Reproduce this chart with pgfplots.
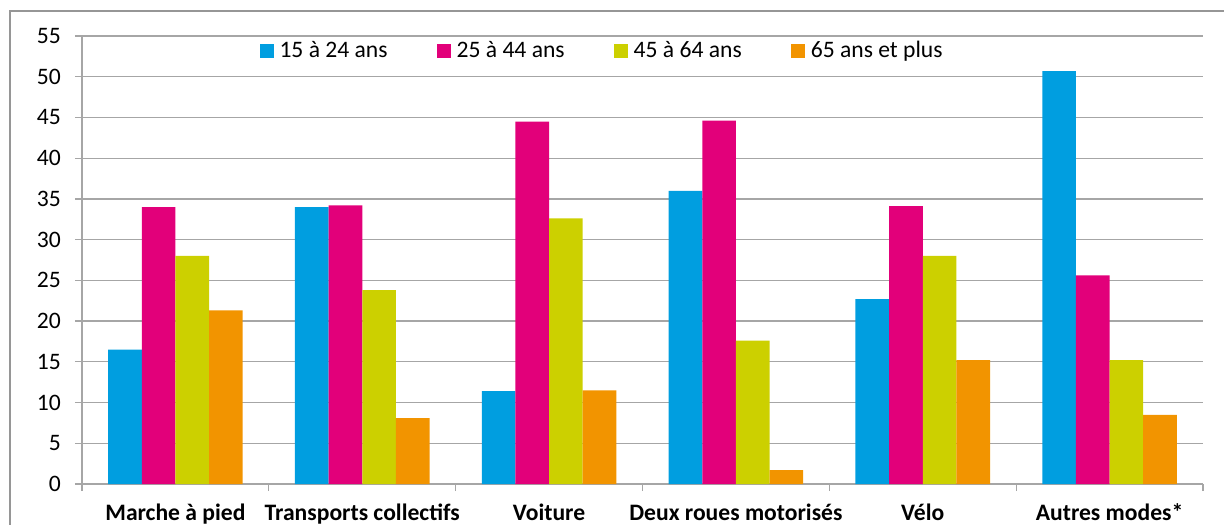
\documentclass[border=0pt]{standalone}
\usepackage{pgfplots}
\pgfplotsset{compat=1.18}
\usepackage{fontspec}
\setmainfont{Carlito}

\definecolor{c1524}{RGB}{0,158,224}
\definecolor{c2544}{RGB}{226,0,122}
\definecolor{c4564}{RGB}{204,208,0}
\definecolor{c65}{RGB}{242,148,0}
\definecolor{gridgray}{RGB}{166,166,166}
\definecolor{framegray}{RGB}{150,150,150}

\begin{document}
\begin{tikzpicture}[font=\fontsize{11.8}{14}\selectfont]
\useasboundingbox (0,0) rectangle (612pt,262pt);
% cadre exterieur
\draw[framegray, line width=0.6pt] (5pt,-2pt) -- (5pt,256.5pt) -- (615pt,256.5pt);
\begin{axis}[
    at={(41pt,20pt)}, anchor=south west,
    scale only axis,
    width=560.5pt, height=224pt,
    xmin=-0.5, xmax=5.5,
    ymin=0, ymax=55,
    ybar=0pt,
    bar width=0.18,
    axis x line*=bottom,
    axis y line*=left,
    axis line style={gridgray, line width=0.6pt},
    ymajorgrids,
    grid style={gridgray, line width=0.6pt},
    tick align=outside,
    major tick length=3.6pt,
    tick style={gridgray, line width=0.6pt},
    ytick={0,5,...,55},
    yticklabel style={xshift=-3.5pt},
    xtick={-0.5,0.5,...,5.5},
    x tick label as interval,
    xticklabels={Marche à pied, Transports collectifs, Voiture, Deux roues motorisés, Vélo, Autres modes*},
    x tick label style={font=\fontsize{11.8}{14}\selectfont\bfseries, anchor=base, yshift=-14.5pt},
    /pgf/number format/assume math mode=true,
    legend columns=4,
    legend style={
        at={(0.158,0.9665)}, anchor=west,
        draw=none, fill=none,
        inner sep=0pt,
        nodes={inner xsep=1.5pt, inner ysep=1pt},
        /tikz/every odd column/.append style={column sep=1.5pt},
        /tikz/every even column/.append style={column sep=23pt},
    },
    legend image code/.code={\fill[#1] (0pt,-3.5pt) rectangle (7pt,3.5pt);},
]
\addplot[fill=c1524, draw=none] coordinates {(0,16.5) (1,34.0) (2,11.4) (3,36.0) (4,22.7) (5,50.7)};
\addplot[fill=c2544, draw=none] coordinates {(0,34.0) (1,34.2) (2,44.5) (3,44.6) (4,34.1) (5,25.6)};
\addplot[fill=c4564, draw=none] coordinates {(0,28.0) (1,23.8) (2,32.6) (3,17.6) (4,28.0) (5,15.2)};
\addplot[fill=c65, draw=none] coordinates {(0,21.3) (1,8.1) (2,11.5) (3,1.7) (4,15.2) (5,8.5)};
\legend{15 à 24 ans, 25 à 44 ans, 45 à 64 ans, 65 ans et plus}
\end{axis}
\end{tikzpicture}
\end{document}
